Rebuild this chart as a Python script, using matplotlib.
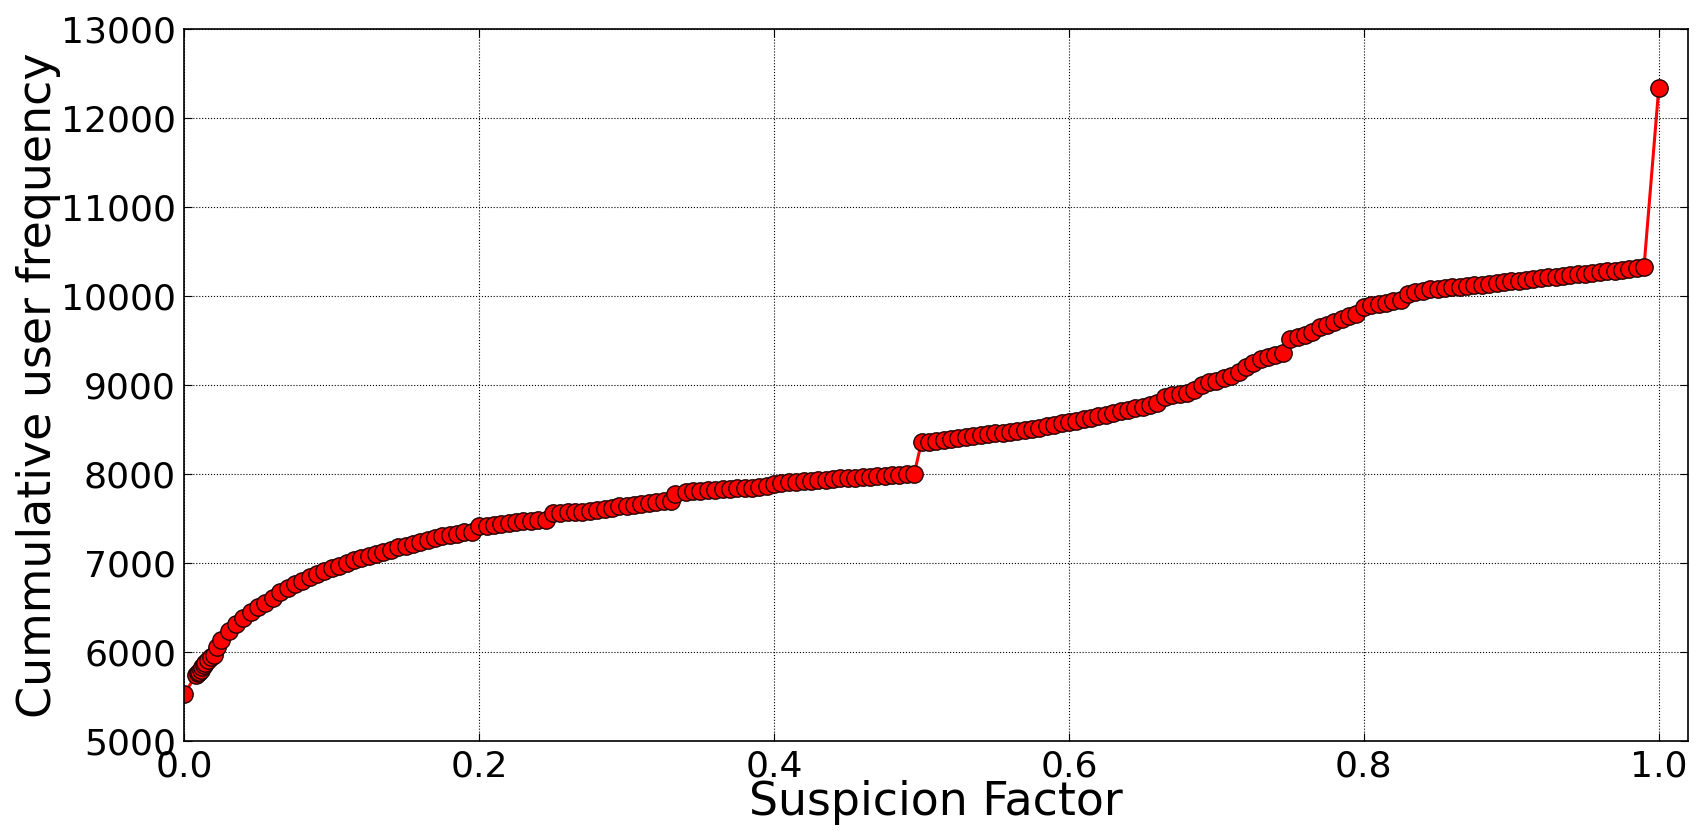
import matplotlib
matplotlib.use("Agg")
import matplotlib.pyplot as plt

## DATA

suspicion = [
  0.000, 0.008, 0.009, 0.010, 0.011, 0.012, 0.013, 0.014, 0.016, 0.018,
  0.020, 0.022, 0.025, 0.030, 0.035, 0.040, 0.045, 0.050, 0.055, 0.060,
  0.065, 0.070, 0.075, 0.080, 0.085, 0.090, 0.095, 0.100, 0.105, 0.110,
  0.115, 0.120, 0.125, 0.130, 0.135, 0.140, 0.145, 0.150, 0.155, 0.160,
  0.165, 0.170, 0.175, 0.180, 0.185, 0.190, 0.195, 0.200, 0.205, 0.210,
  0.215, 0.220, 0.225, 0.230, 0.235, 0.240, 0.245, 0.250, 0.255, 0.260,
  0.265, 0.270, 0.275, 0.280, 0.285, 0.290, 0.295, 0.300, 0.305, 0.310,
  0.315, 0.320, 0.325, 0.330, 0.333, 0.340, 0.345, 0.350, 0.355, 0.360,
  0.365, 0.370, 0.375, 0.380, 0.385, 0.390, 0.395, 0.400, 0.405, 0.410,
  0.415, 0.420, 0.425, 0.430, 0.435, 0.440, 0.445, 0.450, 0.455, 0.460,
  0.465, 0.470, 0.475, 0.480, 0.485, 0.490, 0.495, 0.500, 0.505, 0.510,
  0.515, 0.520, 0.525, 0.530, 0.535, 0.540, 0.545, 0.550, 0.555, 0.560,
  0.565, 0.570, 0.575, 0.580, 0.585, 0.590, 0.595, 0.600, 0.605, 0.610,
  0.615, 0.620, 0.625, 0.630, 0.635, 0.640, 0.645, 0.650, 0.655, 0.660,
  0.665, 0.670, 0.675, 0.680, 0.685, 0.690, 0.695, 0.700, 0.705, 0.710,
  0.715, 0.720, 0.725, 0.730, 0.735, 0.740, 0.745, 0.750, 0.755, 0.760,
  0.765, 0.770, 0.775, 0.780, 0.785, 0.790, 0.795, 0.800, 0.805, 0.810,
  0.815, 0.820, 0.825, 0.830, 0.835, 0.840, 0.845, 0.850, 0.855, 0.860,
  0.865, 0.870, 0.875, 0.880, 0.885, 0.890, 0.895, 0.900, 0.905, 0.910,
  0.915, 0.920, 0.925, 0.930, 0.935, 0.940, 0.945, 0.950, 0.955, 0.960,
  0.965, 0.970, 0.975, 0.980, 0.985, 0.990, 1.000]

cumFreq = [
  5530, 5740, 5760, 5775, 5800, 5830, 5850, 5880, 5910, 5940,
  5966, 6060, 6130, 6230, 6310, 6380, 6445, 6500, 6555, 6610,
  6675, 6715, 6765, 6800, 6838, 6870, 6905, 6940, 6970, 7000,
  7030, 7055, 7075, 7100, 7124, 7150, 7175, 7195, 7215, 7240,
  7262, 7283, 7300, 7315, 7330, 7345, 7350, 7410, 7420, 7430,
  7440, 7450, 7460, 7468, 7475, 7480, 7485, 7560, 7565, 7570,
  7572, 7578, 7588, 7596, 7608, 7620, 7635, 7645, 7655, 7665,
  7675, 7685, 7695, 7700, 7780, 7795, 7805, 7810, 7815, 7820,
  7826, 7832, 7838, 7843, 7848, 7852, 7870, 7890, 7900, 7906,
  7912, 7918, 7924, 7930, 7936, 7942, 7950, 7955, 7960, 7965,
  7970, 7975, 7980, 7985, 7990, 7995, 8000, 8360, 8365, 8372,
  8380, 8390, 8400, 8412, 8425, 8435, 8448, 8458, 8465, 8470,
  8478, 8490, 8505, 8520, 8538, 8555, 8570, 8585, 8600, 8615,
  8632, 8650, 8668, 8685, 8703, 8720, 8740, 8758, 8775, 8798,
  8870, 8885, 8900, 8915, 8950, 9000, 9030, 9050, 9075, 9100,
  9150, 9200, 9250, 9290, 9320, 9340, 9355, 9520, 9540, 9560,
  9600, 9650, 9680, 9710, 9740, 9780, 9800, 9880, 9895, 9910,
  9925, 9945, 9960, 10020, 10045, 10060, 10075, 10085, 10095, 10100,
  10108, 10115, 10122, 10130, 10138, 10146, 10155, 10165, 10175, 10185,
  10193, 10202, 10210, 10220, 10230, 10238, 10246, 10254, 10262, 10270,
  10278, 10286, 10294, 10302, 10312, 10326, 12337]

yTicks = [5000, 6000, 7000, 8000, 9000, 10000, 11000, 12000, 13000]
xTicks = [0.0, 0.2, 0.4, 0.6, 0.8, 1.0]

## PLOT

fig = plt.figure(figsize=[17.07, 8.38], dpi=100, facecolor='w')
ax = fig.add_axes([0.108, 0.116, 0.881, 0.849])

ax.plot(suspicion, cumFreq, c='r', lw=2.2, marker='o', ms=12.5,
        mfc='r', mec='#200000', mew=1.0)

ax.set(xlim=[0, 1.02], ylim=[5000, 13000])
ax.set_xticks(xTicks)
ax.set_xticklabels([f"{t:.1f}" for t in xTicks])
ax.set_yticks(yTicks)
ax.grid(True, ls=':', c='k', lw=0.8)
ax.tick_params(direction='in', top=True, right=True, labelsize=26,
               length=6, pad=6)
for s in ax.spines.values():
  s.set_linewidth(1.2)

ax.set_xlabel('Suspicion Factor', fontsize=33, labelpad=-2)
ax.set_ylabel('Cummulative user frequency', fontsize=33, labelpad=0)

fig.savefig('out.png', dpi=100)
